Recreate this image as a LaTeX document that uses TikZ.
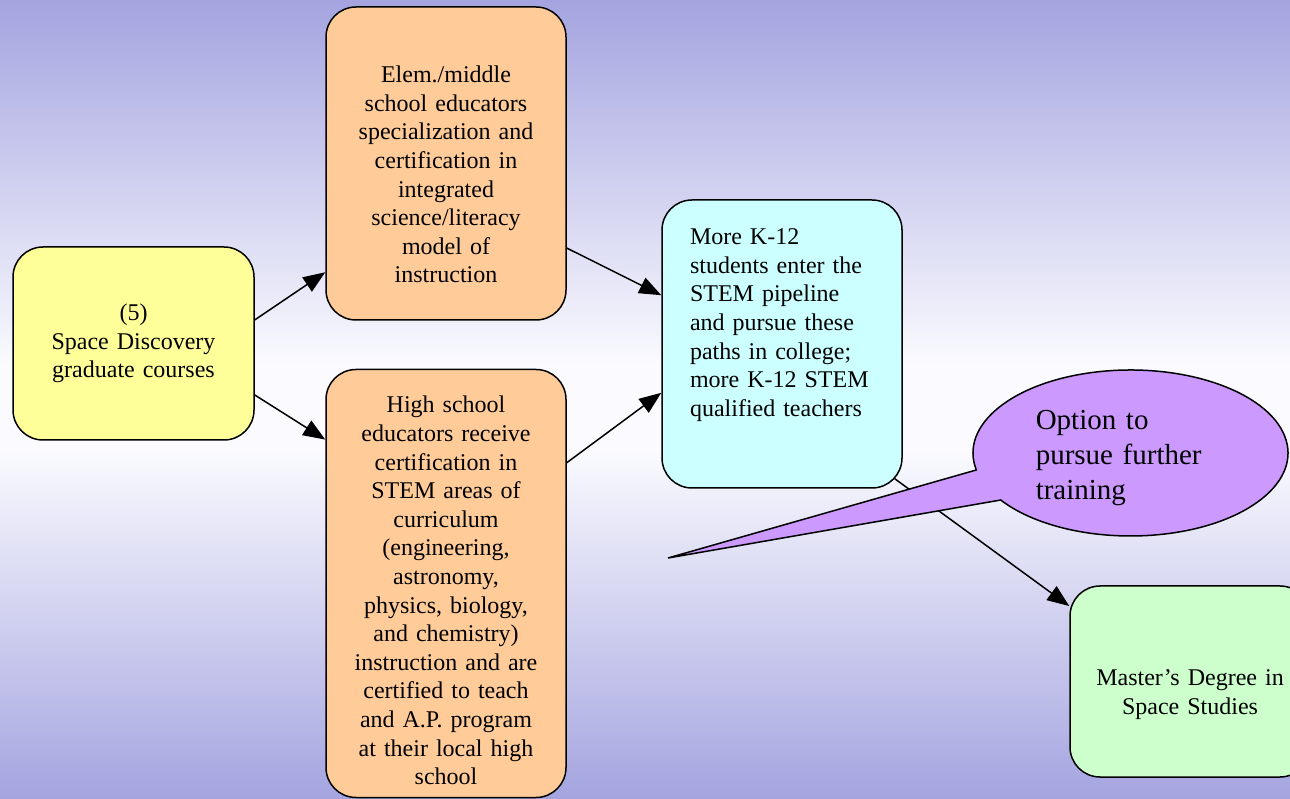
\documentclass[tikz,border=0pt]{standalone}
\usepackage{fontspec}
\setmainfont{Liberation Serif}
\usetikzlibrary{arrows.meta,calc}

\definecolor{bgblue}{RGB}{164,164,224}
\definecolor{bgwhite}{RGB}{251,251,255}
\definecolor{yellowbox}{RGB}{255,255,153}
\definecolor{orangebox}{RGB}{255,204,153}
\definecolor{cyanbox}{RGB}{204,255,255}
\definecolor{greenbox}{RGB}{204,255,204}
\definecolor{purplebubble}{RGB}{204,153,255}
\pgfdeclareverticalshading{backdrop}{100bp}{color(0bp)=(bgblue); color(25bp)=(bgblue); color(47bp)=(bgwhite); color(52bp)=(bgwhite); color(75bp)=(bgblue); color(100bp)=(bgblue)}

\tikzset{
  box/.style={draw=black,rounded corners=30pt,minimum width=240pt,text width=225pt,
    align=center,font=\fontsize{24}{28.6}\selectfont},
  bubble/.style={draw=black,fill=purplebubble,line join=miter},
  bubbletext/.style={text width=220pt,align=left,inner sep=0pt,font=\fontsize{29}{35}\selectfont}
}

\begin{document}
\begin{tikzpicture}[line cap=round,line join=round,>={Triangle[length=22pt,width=17pt]},x=1pt,y=1pt,line width=1.5pt]
\useasboundingbox (0,0) rectangle (1290,798);
\shade[shading=backdrop] (0,0) rectangle (1290,798);
\node[box,fill=yellowbox,minimum width=241pt,minimum height=193pt] (courses) at (133.5,454.5) {(5)\\Space Discovery\\graduate courses};
\node[box,fill=orangebox,minimum height=313pt,text height=39pt] (elemmiddle) at (446,634.5) {Elem./middle\\school educators\\specialization and\\certification in\\integrated\\science/literacy\\model of\\instruction};
\node[box,fill=orangebox,minimum height=428pt,text height=31pt] (highschool) at (446,214.5) {High school\\educators receive\\certification in\\STEM areas of\\curriculum\\(engineering,\\astronomy,\\physics, biology,\\and chemistry)\\instruction and are\\certified to teach\\and A.P. program\\at their local high\\school};
\node[box,fill=cyanbox,minimum height=288pt,text width=184pt,align=left] (pipeline) at (782,454) {More K-12\\students enter the\\STEM pipeline\\and pursue these\\paths in college;\\more K-12 STEM\\qualified teachers\rule[-43pt]{0pt}{43pt}};
\node[box,fill=greenbox,minimum height=191pt,text height=42pt] (masters) at (1190,116.5) {Master’s Degree in\\Space Studies};
\draw[->] (courses.11) -- (elemmiddle.222);
\draw[->] (courses.-23) -- (highschool.130);
\draw[->] (elemmiddle.-35) -- (pipeline.158);
\draw[->] (highschool.45) -- (pipeline.202);
\draw[->] ($(pipeline.south east)+(-8,10)$) -- (masters.148.5);
\coordinate (tip) at (668,240);
\coordinate (center) at (1130.5,345);
\draw[bubble] (tip) -- ($(center)+(191.8:157.5 and 83)$) arc[start angle=191.8,end angle=-145.5,x radius=157.5,y radius=83] -- cycle;
\node[bubbletext,anchor=base west] (option) at (1035,368) {Option to\\pursue further\\training};
\end{tikzpicture}
\end{document}
